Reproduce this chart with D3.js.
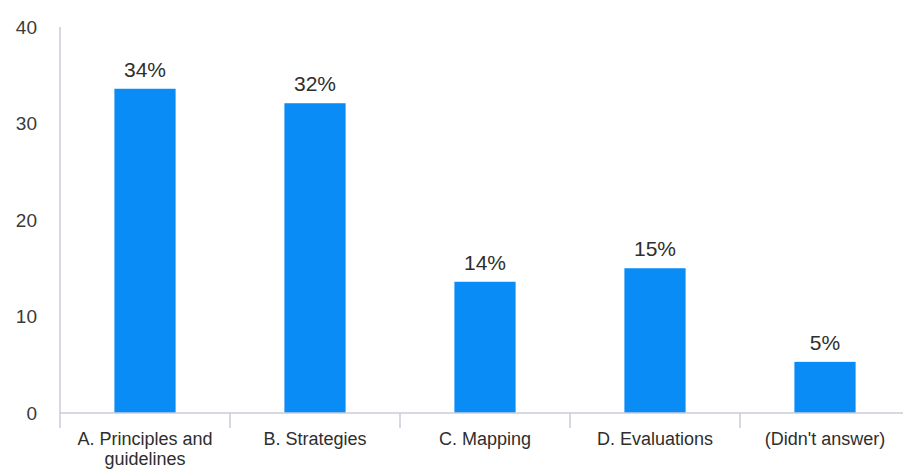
<!DOCTYPE html>
<html>
<head>
  <script src="https://d3js.org/d3.v7.min.js"></script>
  <style>
    body { margin: 0; background: #fff; }
    svg { display: block; font-family: "Liberation Sans", Arial, sans-serif; }
    .tick-label { fill: #3a3a3a; font-size: 19px; }
    .cat-label { fill: #2e2e2e; font-size: 18px; }
    .val-label { fill: #2e2e2e; font-size: 21px; }
  </style>
</head>
<body>
  <div id="chart"></div>
  <script>
    // data
    const categories = ["A. Principles and guidelines", "B. Strategies", "C. Mapping", "D. Evaluations", "(Didn't answer)"];
    const values = [33.6, 32.1, 13.6, 15.0, 5.3];
    const valueLabels = ["34%", "32%", "14%", "15%", "5%"];
    const yTicks = [0, 10, 20, 30, 40];

    const width = 903, height = 470;
    const margin = { left: 60, top: 27, bottom: 57 };

    const svg = d3.select("#chart").append("svg")
      .attr("width", width).attr("height", height);

    const x = d3.scaleBand()
      .domain(categories)
      .range([margin.left, margin.left + 850])
      .paddingInner(0.64)
      .paddingOuter(0.32);

    const y = d3.scaleLinear()
      .domain([0, 40])
      .range([height - margin.bottom, margin.top]);

    const axisColor = "#c9cdd8";

    // y axis line (no ticks)
    svg.append("line")
      .attr("x1", margin.left).attr("x2", margin.left)
      .attr("y1", y(40)).attr("y2", y(0))
      .attr("stroke", axisColor).attr("stroke-width", 1.5);

    svg.selectAll(".tick-label").data(yTicks).enter()
      .append("text")
      .attr("class", "tick-label")
      .attr("x", 37)
      .attr("y", d => y(d))
      .attr("dy", "0.35em")
      .attr("text-anchor", "end")
      .text(d => d);

    // bars
    svg.selectAll(".bar").data(categories).enter()
      .append("rect")
      .attr("class", "bar")
      .attr("x", d => x(d))
      .attr("width", x.bandwidth())
      .attr("y", (d, i) => y(values[i]))
      .attr("height", (d, i) => y(0) - y(values[i]))
      .attr("fill", "#0a8cf7");

    svg.selectAll(".val-label").data(categories).enter()
      .append("text")
      .attr("class", "val-label")
      .attr("x", d => x(d) + x.bandwidth() / 2)
      .attr("y", (d, i) => y(values[i]) - 12)
      .attr("text-anchor", "middle")
      .text((d, i) => valueLabels[i]);

    // x axis baseline and band boundary ticks
    svg.append("line")
      .attr("x1", margin.left).attr("x2", width)
      .attr("y1", y(0)).attr("y2", y(0))
      .attr("stroke", axisColor).attr("stroke-width", 1.5);

    const step = x.step();
    const boundaries = d3.range(categories.length + 1).map(i => margin.left + i * step);
    svg.selectAll(".xtick").data(boundaries).enter()
      .append("line")
      .attr("x1", d => d).attr("x2", d => d)
      .attr("y1", y(0)).attr("y2", y(0) + 15)
      .attr("stroke", axisColor).attr("stroke-width", 1.5);

    // category labels, wrapped like the original
    const catLines = {
      "A. Principles and guidelines": ["A. Principles and", "guidelines"]
    };
    categories.forEach(c => {
      const lines = catLines[c] || [c];
      const t = svg.append("text")
        .attr("class", "cat-label")
        .attr("text-anchor", "middle")
        .attr("x", x(c) + x.bandwidth() / 2)
        .attr("y", y(0) + 32);
      lines.forEach((l, i) => {
        t.append("tspan")
          .attr("x", x(c) + x.bandwidth() / 2)
          .attr("dy", i === 0 ? 0 : 20)
          .text(l);
      });
    });
  </script>
</body>
</html>
